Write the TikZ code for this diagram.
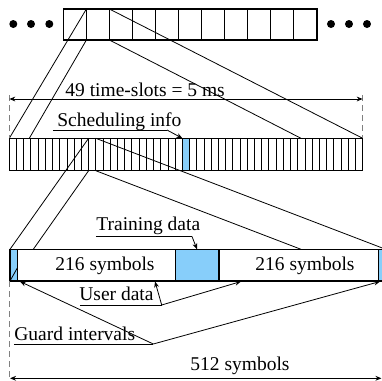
\documentclass[tikz,border=0pt]{standalone}
\usepackage{fontspec}
\setmainfont{Liberation Serif}
\usetikzlibrary{arrows.meta,calc}
\definecolor{slotblue}{RGB}{135,206,250}

\tikzset{
  box/.style={draw, line width=0.7pt},
  cell/.style={line width=0.45pt},
  ray/.style={line width=0.4pt},
  guide/.style={draw=gray, line width=0.5pt, dash pattern=on 3pt off 2pt},
  pointer/.style={line width=0.4pt, -{Stealth[length=3pt,width=2.4pt]}},
  span/.style={line width=0.5pt, {Stealth[length=3pt,width=2.4pt]}-{Stealth[length=3pt,width=2.4pt]}},
  lbl/.style={inner sep=0pt, anchor=base west, font=\fontsize{9.75}{11}\selectfont}
}

\begin{document}
\begin{tikzpicture}[x=0.5pt,y=-0.5pt]
  \clip (0,0) rectangle (382,381);
  % frame of time-slots, with dots on both sides
  \coordinate (fr1) at (63.3,9);
  \coordinate (fr2) at (317,40);
  \foreach \x in {13.3,31,49.3,331,349,367}
    \fill (\x,24) circle (4);
  \foreach \i in {1,...,10}
    \draw[cell] ($(fr1)+(\i*23.06,0)$) -- ++(0,31);
  \draw[box] (fr1) rectangle (fr2);
  % corners of slot two, spread out below
  \coordinate (a1) at (86.4,9);
  \coordinate (a2) at (86.4,40);
  \coordinate (a3) at (109.4,9);
  \coordinate (a4) at (109.4,40);

  % the 49 time-slots
  \coordinate (sl1) at (9.3,138.3);
  \coordinate (sl2) at (362.7,170.7);
  \fill[slotblue] (182.4,138.3) rectangle (189.6,170.7);
  \foreach \i in {1,...,48}
    \draw[cell] ($(sl1)+(\i*7.212,0)$) -- ++(0,32.4);
  \draw[box] (sl1) rectangle (sl2);
  \coordinate (b1) at (29.3,138.3);
  \coordinate (b2) at (301,138.3);
  \coordinate (b3) at (362.7,138.3);
  \coordinate (info) at (182.4,138.3);
  % corners of slot twelve
  \coordinate (c1) at (88.6,138.3);
  \coordinate (c2) at (88.6,170.7);
  \coordinate (c3) at (95.8,138.3);
  \coordinate (c4) at (95.8,170.7);

  % one slot: guard, data, training, data, guard
  \coordinate (sy1) at (10,249.3);
  \coordinate (sy2) at (385.7,281);
  \fill[slotblue] (10,249.3) rectangle (17.3,281);
  \fill[slotblue] (175.7,249.3) rectangle (219,281);
  \fill[slotblue] (378.3,249.3) rectangle (385.7,281);
  \draw[box] (sy1) rectangle (sy2);
  \draw[box] (17.3,249.3) -- (17.3,281) (175.7,249.3) -- (175.7,281)
    (219,249.3) -- (219,281) (378.3,249.3) -- (378.3,281);
  \draw[ray] (17.3,268) -- (10,281);
  \coordinate (d1) at (33.3,249.3);
  \coordinate (d2) at (301,249.3);
  \coordinate (d3) at (385.7,249.3);

  % rays of the zoom
  \draw[ray] (a1) -- (sl1) (a2) -- (b1) (a3) -- (b3) (a4) -- (b2);
  \draw[ray] (c1) -- (sy1) (c2) -- (d1) (c3) -- (d3) (c4) -- (d2);

  % limits
  \draw[guide] (9.3,95) -- (sl1);
  \draw[guide] (362.7,95) -- (b3);
  \draw[guide] (10,281) -- (10,381);
  \coordinate (t1) at (9.3,99);
  \coordinate (t2) at (362.7,99);
  \draw[span] (t1) -- (t2);
  \node[lbl] (slots) at (65,96.5) {49 time-slots = 5 ms};
  \coordinate (u1) at (10,378.3);
  \coordinate (u2) at (381.5,378.3);
  \draw[span] (u1) -- (u2);
  \node[lbl] (total) at (190,370) {512 symbols};

  % labels with pointers
  \node[lbl] (sched) at (57,126) {Scheduling info};
  \coordinate (sch1) at (53,130);
  \coordinate (sch2) at (167,130);
  \draw[ray] (sch1) -- (sch2);
  \draw[pointer] (sch2) -- (info);

  \node[lbl] (train) at (96,230) {Training data};
  \coordinate (tr1) at (96,236.5);
  \coordinate (tr2) at (192,236.5);
  \coordinate (tr3) at (197,249.3);
  \draw[ray] (tr1) -- (tr2);
  \draw[pointer] (tr2) -- (tr3);

  \node[lbl] (sym1) at (55,270) {216 symbols};
  \node[lbl] (sym2) at (255,270) {216 symbols};

  \node[lbl] (user) at (79,300) {User data};
  \coordinate (us1) at (80,305);
  \coordinate (us2) at (161.7,305);
  \coordinate (us3) at (155,281.5);
  \coordinate (us4) at (241,281.5);
  \draw[ray] (us1) -- (us2);
  \draw[pointer] (us2) -- (us3);
  \draw[pointer] (us2) -- (us4);

  \node[lbl] (guard) at (14,340.5) {Guard intervals};
  \coordinate (gu1) at (14,344);
  \coordinate (gu2) at (153.3,344);
  \coordinate (gu3) at (20,281.5);
  \coordinate (gu4) at (380,281.5);
  \draw[ray] (gu1) -- (gu2);
  \draw[pointer] (gu2) -- (gu3);
  \draw[pointer] (gu2) -- (gu4);
\end{tikzpicture}
\end{document}
